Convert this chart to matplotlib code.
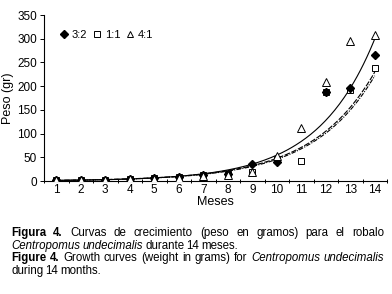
import numpy as np
import matplotlib
matplotlib.use("Agg")
import matplotlib.pyplot as plt
from matplotlib import font_manager
from matplotlib.lines import Line2D

# datos
months = np.arange(1, 15)
peso_32 = [2, 3, 3, 5, 6, 9, 12, 15, 35, 41, np.nan, 188, 196, 266]
peso_11 = [2, 3, 3, 5, 6, 8, 12, 14, 20, 47, 43, 188, 192, 238]
peso_41 = [2, 2, 2, 4, 5, 7, 11, 13, 18, 53, 112, 209, 296, 308]
series_labels = ["3:2", "1:1", "4:1"]

# lineas de tendencia exponencial y = a*exp(b*x)
trend_a = [0.77, 0.95, 0.88]
trend_b = [0.426, 0.392, 0.395]
trend_styles = ["-", (0, (5, 1.5)), (0, (4, 1.2, 1, 1.2))]

yticks = [0, 50, 100, 150, 200, 250, 300, 350]

try:
    font_manager.findfont("Liberation Sans Narrow", fallback_to_default=False)
    fam = "Liberation Sans Narrow"
except ValueError:
    fam = "Liberation Sans"
plt.rcParams["font.family"] = [fam, "DejaVu Sans"]

fig = plt.figure(figsize=(3.92, 2.94), dpi=100)
W, H = 392, 294
ax = fig.add_axes([44 / W, 1 - 181 / H, 343 / W, 166 / H])

xs = np.linspace(1, 14, 200)
for a, b, ls in zip(trend_a, trend_b, trend_styles):
    ax.plot(xs, a * np.exp(b * xs), color="black", lw=0.8, ls=ls, zorder=2)

ax.plot(months, peso_11, ls="none", marker="s", ms=5, mfc="white", mec="black", mew=0.7, zorder=3)
ax.plot(months, peso_32, ls="none", marker="D", ms=4, mfc="black", mec="black", zorder=4)
ax.plot(months, peso_41, ls="none", marker="^", ms=5.5, mfc="white", mec="black", mew=0.7, zorder=5)

ax.set_xlim(0.5, 14.5)
ax.set_ylim(0, 350)
ax.set_yticks(yticks)
ax.set_xticks(months)
ax.set_xticks(np.arange(0.5, 15, 1), minor=True)
ax.tick_params(axis="x", which="major", length=0, labelsize=8.5, pad=2)
ax.tick_params(axis="x", which="minor", length=3, direction="inout", width=0.7)
ax.tick_params(axis="y", length=3, width=0.7, labelsize=8.5, pad=2)
for s in ["top", "right"]:
    ax.spines[s].set_visible(False)
for s in ["left", "bottom"]:
    ax.spines[s].set_linewidth(0.8)
ax.set_ylabel("Peso (gr)", fontsize=9, labelpad=2)
ax.set_xlabel("Meses", fontsize=9, labelpad=0)

handles = [
    Line2D([], [], ls="none", marker="D", ms=4, mfc="black", mec="black"),
    Line2D([], [], ls="none", marker="s", ms=4.5, mfc="white", mec="black", mew=0.7),
    Line2D([], [], ls="none", marker="^", ms=5, mfc="white", mec="black", mew=0.7),
]
ax.legend(handles, series_labels, ncol=3, loc="center left", bbox_to_anchor=(0.045, 0.88),
          frameon=False, fontsize=8, handlelength=0.8, handletextpad=0.3,
          columnspacing=0.5, borderpad=0, borderaxespad=0)

# pie de figura, justificado a mano
caption = [
    ([("Figura 4.", "bold"), ("Curvas de crecimiento (peso en gramos) para el robalo", "normal")], True, 236),
    ([("Centropomus undecimalis", "italic"), ("durante 14 meses.", "normal")], False, 249),
    ([("Figure 4.", "bold"), ("Growth curves (weight in grams) for", "normal"),
      ("Centropomus undecimalis", "italic")], True, 261),
    ([("during 14 months.", "normal")], False, 274),
]
x0, x1 = 11, 384
renderer = fig.canvas.get_renderer()
for segs, justify, ybase in caption:
    words = []
    for txt, st in segs:
        for w in txt.split():
            words.append((w, st))
    objs = []
    for w, st in words:
        t = fig.text(0, 1 - ybase / H, w, fontsize=8.3, va="baseline", ha="left",
                     fontweight="bold" if st == "bold" else "normal",
                     fontstyle="italic" if st == "italic" else "normal")
        objs.append(t)
    widths = [t.get_window_extent(renderer).width for t in objs]
    if justify and len(objs) > 1:
        gap = (x1 - x0 - sum(widths)) / (len(objs) - 1)
    else:
        gap = 2.3
    x = x0
    for t, wd in zip(objs, widths):
        t.set_x(x / W)
        x += wd + gap

fig.savefig("out.png", dpi=100)
